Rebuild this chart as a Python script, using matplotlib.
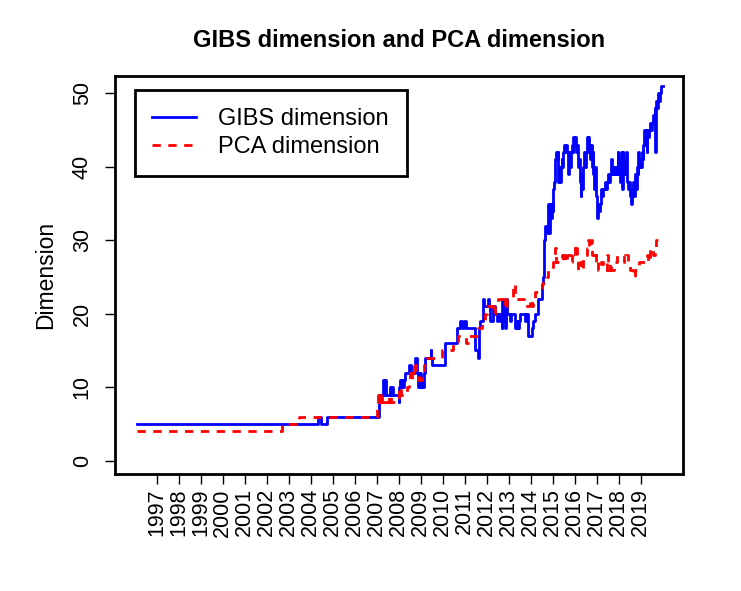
import matplotlib.pyplot as plt

plt.rcParams['font.family'] = ['Liberation Sans', 'DejaVu Sans']

# ---- data (decimal year, dimension), step changes ----
gibs_t = [1996.12, 2004.35, 2004.48, 2004.73,
          2007.10, 2007.30, 2007.34, 2007.38, 2007.43, 2007.61, 2007.65, 2007.70, 2007.76,
          2007.99, 2008.03, 2008.07, 2008.10, 2008.14, 2008.18, 2008.22, 2008.29, 2008.48,
          2008.55, 2008.74, 2008.82, 2008.86, 2008.90, 2008.94, 2008.98, 2009.02, 2009.06,
          2009.10, 2009.14, 2009.20, 2009.45, 2009.48, 2009.50, 2010.10, 2010.66, 2010.79,
          2010.86, 2010.98, 2011.06, 2011.47, 2011.62, 2011.66, 2011.70, 2011.84, 2011.88,
          2012.05, 2012.10, 2012.15, 2012.30, 2012.37, 2012.45, 2012.52, 2012.60, 2012.68,
          2012.71, 2012.75, 2012.79, 2012.83, 2012.87, 2012.91, 2013.05, 2013.12, 2013.28,
          2013.32, 2013.36, 2013.40, 2013.44, 2013.48, 2013.51, 2013.74, 2013.80, 2013.89,
          2014.04, 2014.12, 2014.19, 2014.34, 2014.45, 2014.50, 2014.55, 2014.60, 2014.64,
          2014.70, 2014.75, 2014.79, 2014.82, 2014.86, 2014.90, 2014.95, 2015.00, 2015.02,
          2015.06, 2015.10, 2015.14, 2015.18, 2015.22, 2015.25, 2015.28, 2015.32, 2015.36,
          2015.40, 2015.44, 2015.48, 2015.52, 2015.56, 2015.60, 2015.64, 2015.70, 2015.74,
          2015.78, 2015.82, 2015.86, 2015.90, 2015.93, 2015.97, 2016.01, 2016.05, 2016.09,
          2016.13, 2016.16, 2016.20, 2016.23, 2016.27, 2016.30, 2016.34, 2016.38, 2016.42,
          2016.46, 2016.50, 2016.54, 2016.58, 2016.62, 2016.66, 2016.69, 2016.73, 2016.77,
          2016.81, 2016.84, 2016.88, 2016.92, 2016.96, 2016.99, 2017.03, 2017.07, 2017.11,
          2017.15, 2017.20, 2017.25, 2017.29, 2017.35, 2017.40, 2017.45, 2017.50, 2017.55,
          2017.59, 2017.63, 2017.67, 2017.71, 2017.74, 2017.78, 2017.83, 2017.87, 2017.90,
          2017.94, 2017.98, 2018.02, 2018.05, 2018.09, 2018.13, 2018.17, 2018.20, 2018.24,
          2018.28, 2018.32, 2018.35, 2018.40, 2018.45, 2018.50, 2018.54, 2018.58, 2018.62,
          2018.65, 2018.70, 2018.74, 2018.78, 2018.81, 2018.85, 2018.89, 2018.93, 2018.96,
          2019.00, 2019.04, 2019.08, 2019.11, 2019.15, 2019.19, 2019.23, 2019.26, 2019.30,
          2019.34, 2019.38, 2019.41, 2019.45, 2019.50, 2019.57, 2019.62, 2019.65, 2019.68,
          2019.71, 2019.75, 2019.80, 2019.84, 2019.88, 2019.92, 2019.99]
gibs_v = [5, 6, 5, 6,
          9, 11, 9, 11, 9, 10, 9, 10, 9,
          8, 10, 11, 10, 11, 10, 11, 12, 13,
          12, 14, 12, 10, 12, 10, 12, 10, 11,
          10, 12, 14, 15, 14, 13, 16, 18, 19,
          18, 19, 18, 15, 14, 18, 19, 22, 21,
          22, 21, 19, 21, 20, 19, 20, 19, 18,
          22, 19, 21, 18, 22, 20, 19, 20, 18,
          19, 18, 19, 18, 19, 20, 19, 20, 17,
          18, 19, 20, 22, 22, 24, 25, 30, 32,
          32, 31, 35, 31, 35, 33, 35, 34, 37,
          38, 41, 42, 41, 42, 38, 40, 38, 40,
          41, 40, 42, 43, 42, 43, 42, 39, 42,
          40, 42, 43, 42, 44, 43, 44, 42, 43,
          42, 40, 41, 38, 36, 39, 37, 40, 42,
          40, 42, 44, 42, 44, 43, 41, 43, 40,
          42, 39, 37, 40, 36, 34, 33, 35, 34,
          35, 37, 36, 37, 38, 37, 38, 39, 38,
          39, 41, 39, 40, 39, 40, 39, 40, 39,
          42, 39, 41, 38, 42, 37, 42, 39, 41,
          39, 42, 38, 37, 38, 36, 35, 37, 36,
          38, 36, 39, 37, 40, 39, 42, 40, 41,
          40, 42, 41, 43, 45, 43, 45, 42, 45,
          44, 45, 46, 45, 46, 47, 48, 42, 47,
          49, 48, 50, 49, 50, 51, 51]

pca_t = [1996.12, 2002.69, 2003.48, 2006.99,
         2007.08, 2007.12, 2007.16, 2007.20, 2007.26, 2007.30, 2007.55, 2007.58, 2007.62,
         2007.66, 2007.99, 2008.03, 2008.07, 2008.12, 2008.36, 2008.48, 2008.52, 2008.56,
         2008.60, 2008.65, 2008.70, 2008.75, 2008.80, 2008.86, 2008.92, 2008.98, 2009.04,
         2009.14, 2009.27, 2009.95, 2010.03, 2010.48, 2010.70, 2011.06, 2011.21, 2011.62,
         2011.77, 2011.92, 2012.00, 2012.30, 2012.37, 2012.52, 2012.80, 2012.84, 2012.88,
         2012.92, 2012.96, 2013.20, 2013.30, 2013.36, 2013.70, 2013.96, 2014.05, 2014.12,
         2014.19, 2014.49, 2014.57, 2014.79, 2015.02, 2015.10, 2015.14, 2015.25, 2015.40,
         2015.45, 2015.50, 2015.55, 2015.63, 2015.78, 2015.85, 2015.93, 2016.00, 2016.05,
         2016.09, 2016.16, 2016.22, 2016.28, 2016.38, 2016.54, 2016.60, 2016.66, 2016.72,
         2016.77, 2016.92, 2016.98, 2017.07, 2017.20, 2017.30, 2017.45, 2017.52, 2017.59,
         2017.66, 2017.80, 2017.90, 2018.00, 2018.25, 2018.32, 2018.40, 2018.50, 2018.65,
         2018.75, 2018.81, 2018.90, 2019.26, 2019.33, 2019.41, 2019.53, 2019.62, 2019.71,
         2019.99]
pca_v = [4, 5, 6, 7,
         9, 8, 9, 8, 9, 8, 9, 8, 9,
         8, 10, 9, 10, 9, 10, 11, 12, 11,
         12, 13, 12, 13, 12, 11, 12, 11, 12,
         13, 14, 15, 15, 16, 17, 16, 17, 18,
         19, 20, 21, 20, 21, 22, 21, 22, 21,
         22, 22, 24, 22, 22, 21, 22, 21, 22,
         23, 24, 25, 26, 27, 29, 27, 27, 28,
         27, 28, 27, 28, 27, 28, 29, 28, 29,
         28, 26, 27, 26, 28, 29, 30, 29, 30,
         28, 27, 28, 26, 27, 26, 28, 26, 27,
         26, 27, 28, 28, 27, 28, 27, 26, 25,
         26, 26, 27, 28, 27, 29, 28, 29, 30,
         30]

year_ticks = list(range(1997, 2020))
dim_ticks = [0, 10, 20, 30, 40, 50]

# ---- figure ----
fig = plt.figure(figsize=(7.41, 5.91), dpi=100)
ax = fig.add_axes([0.1552, 0.1975, 0.7661, 0.6744])

ax.plot(gibs_t, gibs_v, color='#0000FF', lw=2, drawstyle='steps-post',
        label='GIBS dimension')
ax.plot(pca_t, pca_v, color='#FF0000', lw=2, drawstyle='steps-post',
        linestyle=(0, (3, 2.7)), label='PCA dimension')

ax.set_xlim(1995.11, 2020.90)
ax.set_ylim(-1.85, 52.4)

ax.set_xticks(year_ticks)
ax.set_xticklabels([str(y) for y in year_ticks], rotation=90, fontsize=15.5)
ax.set_yticks(dim_ticks)
ax.set_yticklabels([str(d) for d in dim_ticks], rotation=90, va='center', fontsize=15.5)
ax.tick_params(axis='x', length=7, width=1, pad=3)
ax.tick_params(axis='y', length=7, width=1, pad=9)

for s in ax.spines.values():
    s.set_linewidth(2)

ax.set_ylabel('Dimension', fontsize=16.5, va='center')
ax.yaxis.set_label_coords(-0.1227, 0.5)

fig.text(0.538, 0.932, 'GIBS dimension and PCA dimension', ha='center', va='center',
         fontsize=17, fontweight='bold')

leg = ax.legend(loc='upper left', bbox_to_anchor=(0.0345, 0.963), borderaxespad=0,
                fancybox=False, edgecolor='black', framealpha=1, fontsize=17,
                handlelength=1.83, handletextpad=0.96, borderpad=0.75, labelspacing=0.25)
leg.get_frame().set_linewidth(2)

fig.savefig('out.png', dpi=100)
